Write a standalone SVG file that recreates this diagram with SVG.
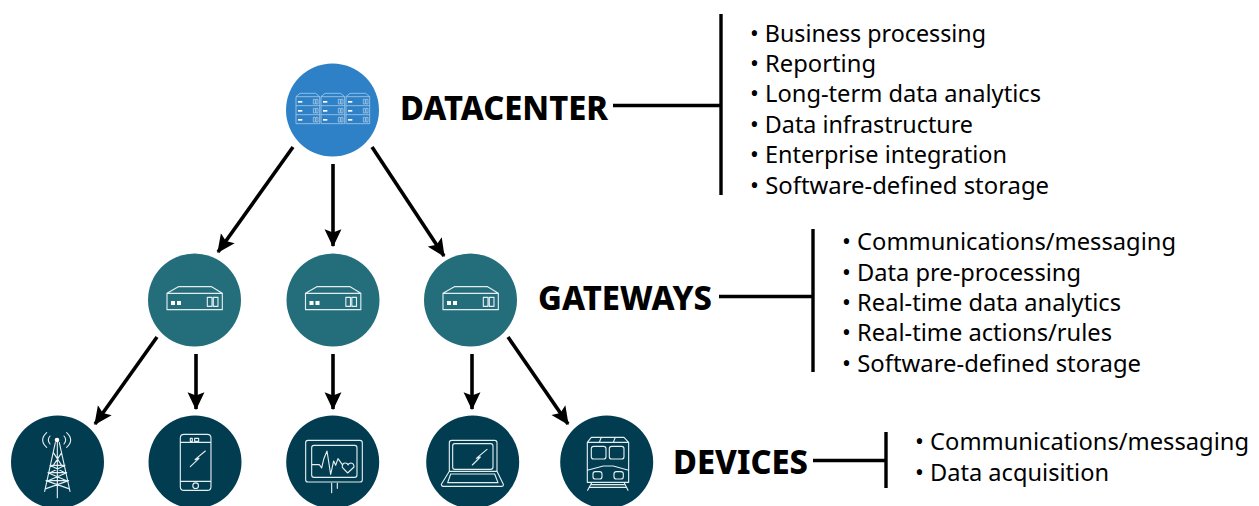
<svg xmlns="http://www.w3.org/2000/svg" width="1259" height="506" viewBox="0 0 1259 506">
<style>
.list{font-family:"Noto Sans","Open Sans",sans-serif;font-size:24px;fill:#000}
.title{font-family:"Noto Sans","Open Sans",sans-serif;font-weight:800;font-size:33px;fill:#000}
.conn{stroke:#000;stroke-width:3.4;fill:none}
.arrow{stroke:#000;stroke-width:3.6;fill:none;marker-end:url(#head)}
.ic{fill:none;stroke:#e4eef0;stroke-width:3.4;stroke-linejoin:round;stroke-linecap:round}
.srv{fill:none;stroke:#a8cbe8;stroke-width:2.4}
.dc{fill:#2e81c6}.gw{fill:#246e7c}.dev{fill:#023c51}
</style>
<defs>
<marker id="head" markerUnits="userSpaceOnUse" markerWidth="18" markerHeight="18" refX="15" refY="7.500" orient="auto" viewBox="0 0 16 15"><path d="M0 0L16 7.500L0 15L3 7.500Z" fill="#000"/></marker>
<g id="srvunit"><path class="srv" d="M0 140V221H71V140ZM0 167H71M0 194H71M0 140L12 130H59L71 140"/><g fill="#fff"><rect x="6" y="153" width="13" height="5"/><rect x="6" y="180" width="13" height="5"/><rect x="6" y="207" width="13" height="5"/></g><path class="srv" d="M52 148h6v14h-6zM60 148h6v14h-6zM52 175h6v14h-6zM60 175h6v14h-6zM52 202h6v14h-6zM60 202h6v14h-6z"/></g>
<g id="gwicon"><path class="ic" d="M111 160H277V209H111ZM111 160L145 140H245L277 160M232 172H246V199H232ZM250 172H264V199H250Z"/><rect x="123" y="183" width="12" height="12" fill="#fff"/><rect x="141" y="183" width="12" height="12" fill="#fff"/></g>
</defs>
<g id="connectors">
<path class="conn" d="M613 105.500H720M721 14V195M719 296.500H812M813 229V372M813 460.500H886M886 432V488"/>
<path class="arrow" d="M293 147L218 252"/>
<path class="arrow" d="M333 164V246"/>
<path class="arrow" d="M372 147L444 256"/>
<path class="arrow" d="M157 337L95 424"/>
<path class="arrow" d="M196 354V409"/>
<path class="arrow" d="M333 354V409"/>
<path class="arrow" d="M472 354V409"/>
<path class="arrow" d="M508 337L568 424"/>
</g>
<g id="datacenter"><circle class="dc" cx="332.500" cy="110" r="46.500"/>
<g transform="translate(270 50) scale(.3333)"><use href="#srvunit" x="78"/><use href="#srvunit" x="153"/><use href="#srvunit" x="228"/></g>
<text class="title" x="400" y="120" textLength="208" lengthAdjust="spacingAndGlyphs">DATACENTER</text></g>
<g id="gateway-1"><circle class="gw" cx="194.500" cy="300" r="46.500"/><use href="#gwicon" transform="translate(130 240) scale(.3333)"/></g>
<g id="gateway-2"><circle class="gw" cx="333" cy="300" r="46.500"/><use href="#gwicon" transform="translate(268.500 240) scale(.3333)"/></g>
<g id="gateway-3"><circle class="gw" cx="470.500" cy="300" r="46.500"/><use href="#gwicon" transform="translate(406 240) scale(.3333)"/></g>
<g id="gateways-label"><text class="title" x="538" y="310" textLength="174" lengthAdjust="spacingAndGlyphs">GATEWAYS</text></g>
<g id="device-tower"><circle class="dev" cx="57.500" cy="462" r="46.500"/>
<g transform="translate(0 406) scale(.3333)"><path class="ic" d="M172 102V275M166 110L134 256M178 110L210 256M155 178H190M150 200H195M144 224H200M138 248L206 224M138 224L206 248M144 200L200 224M200 200L144 224M150 178L195 200M195 178L150 200M160 140L185 178M185 140L160 178M150 90Q140 102 150 114M140 80Q116 102 140 124M192 90Q202 102 192 114M200 80Q224 102 200 124"/><circle cx="171" cy="102" r="7" fill="#fff"/></g></g>
<g id="device-phone"><circle class="dev" cx="195" cy="462" r="46.500"/>
<g transform="translate(0 406) scale(.3333)"><path class="ic" d="M552 85H622Q633 85 633 96V242Q633 253 622 253H552Q541 253 541 242V96Q541 85 552 85ZM541 109H633M541 226H633M571 97H577V106H571ZM584 97H596V106H584ZM571 182L597 157L585 161L616 135"/><circle class="ic" cx="587" cy="239" r="8.500"/></g></g>
<g id="device-monitor"><circle class="dev" cx="332.700" cy="462" r="46.500"/>
<g transform="translate(280 406) scale(.3333)"><path class="ic" d="M84 103H240Q247 103 247 110V221Q247 228 240 228H84Q77 228 77 221V110Q77 103 84 103ZM102 118H224Q231 118 231 125V207Q231 214 224 214H102Q95 214 95 207V125Q95 118 102 118ZM95 176H118L125 186L131 160L141 135L152 205L161 165L167 178L174 158L187 176M203 201L187 184Q186 171 196 171Q203 171 204 177Q206 171 213 171Q222 172 222 183ZM155 232V260M172 232V247"/></g></g>
<g id="device-laptop"><circle class="dev" cx="472.700" cy="462" r="46.500"/>
<g transform="translate(420 406) scale(.3333)"><path class="ic" d="M95 103H224Q231 103 231 110V196H88V110Q88 103 95 103ZM104 113H212Q219 113 219 120V184Q219 190 212 190H104Q98 190 98 184V120Q98 113 104 113ZM88 196L64 235Q64 241 70 241H245Q251 241 250 235L231 196M92 204H224L234 230H83ZM157 177L181 153L169 157L201 130"/></g></g>
<g id="device-train"><circle class="dev" cx="606.700" cy="462" r="46.500"/>
<g transform="translate(420 406) scale(.3333)"><path class="ic" d="M502 109H626V229H502ZM502 109L514 94H612L626 109M538 109L544 94M580 109L586 94M521 121H551Q558 121 558 128V152Q558 159 551 159H521Q514 159 514 152V128Q514 121 521 121ZM575 121H605Q612 121 612 128V152Q612 159 605 159H575Q568 159 568 152V128Q568 121 575 121ZM502 193L550 180H580L626 193M526 197H539Q546 197 546 204V212Q546 219 539 219H526Q519 219 519 212V204Q519 197 526 197ZM589 197H603Q610 197 610 204V212Q610 219 603 219H589Q582 219 582 212V204Q582 197 589 197ZM516 229L503 253M612 229L624 253M512 236H616M507 244H620"/></g></g>
<g id="devices-label"><text class="title" x="673" y="474" textLength="135" lengthAdjust="spacingAndGlyphs">DEVICES</text></g>
<g id="datacenter-list">
<text class="list" x="750" y="42" textLength="236" lengthAdjust="spacingAndGlyphs">• Business processing</text>
<text class="list" x="750" y="72" textLength="126" lengthAdjust="spacingAndGlyphs">• Reporting</text>
<text class="list" x="750" y="102" textLength="291" lengthAdjust="spacingAndGlyphs">• Long-term data analytics</text>
<text class="list" x="750" y="133" textLength="223" lengthAdjust="spacingAndGlyphs">• Data infrastructure</text>
<text class="list" x="750" y="163" textLength="257" lengthAdjust="spacingAndGlyphs">• Enterprise integration</text>
<text class="list" x="750" y="194" textLength="299" lengthAdjust="spacingAndGlyphs">• Software-defined storage</text>
</g>
<g id="gateways-list">
<text class="list" x="842" y="250" textLength="334" lengthAdjust="spacingAndGlyphs">• Communications/messaging</text>
<text class="list" x="842" y="281" textLength="239" lengthAdjust="spacingAndGlyphs">• Data pre-processing</text>
<text class="list" x="842" y="311" textLength="279" lengthAdjust="spacingAndGlyphs">• Real-time data analytics</text>
<text class="list" x="842" y="341" textLength="270" lengthAdjust="spacingAndGlyphs">• Real-time actions/rules</text>
<text class="list" x="842" y="372" textLength="299" lengthAdjust="spacingAndGlyphs">• Software-defined storage</text>
</g>
<g id="devices-list">
<text class="list" x="915" y="450" textLength="334" lengthAdjust="spacingAndGlyphs">• Communications/messaging</text>
<text class="list" x="915" y="481" textLength="194" lengthAdjust="spacingAndGlyphs">• Data acquisition</text>
</g>
</svg>
